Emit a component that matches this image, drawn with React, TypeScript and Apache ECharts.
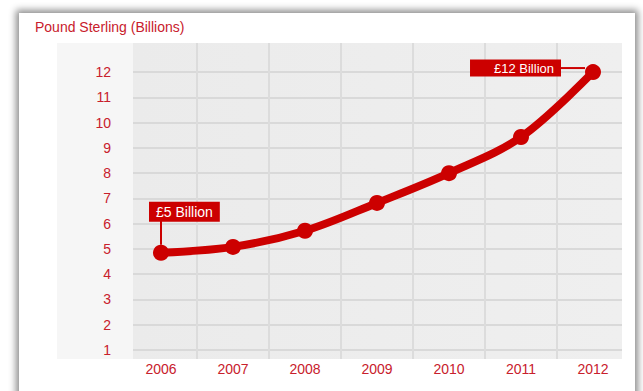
import React, { useEffect, useRef } from "react";
import * as echarts from "echarts";

const years = ["2006", "2007", "2008", "2009", "2010", "2011", "2012"];
const values = [4.85, 5.08, 5.72, 6.82, 8.0, 9.43, 12.0];
const yTicks = [1, 2, 3, 4, 5, 6, 7, 8, 9, 10, 11, 12];
const titleText = "Pound Sterling (Billions)";
const firstLabel = "£5 Billion";
const lastLabel = "£12 Billion";

const RED = "#cc0000";
const TXT = "#c8202c";
const FONT = "'Liberation Sans', Arial, sans-serif";

export default function App() {
  const ref = useRef<HTMLDivElement>(null);
  useEffect(() => {
    if (!ref.current) return;
    const chart = echarts.init(ref.current, undefined, { renderer: "svg" });
    const data = values.map((v, i) => {
      if (i === 0) {
        return {
          value: v,
          label: {
            show: true,
            position: "top",
            distance: 0,
            align: "left",
            offset: [-12, 0],
            formatter: `{box|${firstLabel}}\n{sp| }{stem| }`,
            rich: {
              box: {
                backgroundColor: RED,
                color: "#fff",
                fontSize: 14,
                fontFamily: FONT,
                padding: [3, 7, 3, 7],
                height: 14,
                lineHeight: 14,
              },
              sp: { width: 11, height: 26, fontSize: 1 },
              stem: { width: 2, height: 26, backgroundColor: RED, fontSize: 1 },
            },
          },
        };
      }
      if (i === values.length - 1) {
        return {
          value: v,
          label: {
            show: true,
            position: "left",
            distance: 0,
            offset: [0, -4],
            formatter: `{box|${lastLabel}}{ln| }`,
            rich: {
              box: {
                backgroundColor: RED,
                color: "#fff",
                fontSize: 13,
                fontFamily: FONT,
                padding: [2, 7, 2, 24],
                height: 13,
                lineHeight: 13,
                verticalAlign: "middle",
              },
              ln: {
                width: 24,
                height: 2,
                backgroundColor: RED,
                fontSize: 1,
                verticalAlign: "middle",
              },
            },
          },
        };
      }
      return v;
    });

    chart.setOption({
      animation: false,
      title: {
        text: titleText,
        left: 35,
        top: 20,
        padding: 0,
        textStyle: {
          color: TXT,
          fontSize: 14,
          fontWeight: "normal",
          fontFamily: FONT,
        },
      },
      graphic: [
        {
          type: "rect",
          z: -10,
          silent: true,
          shape: { x: 57, y: 43, width: 76, height: 316 },
          style: { fill: "#f6f6f6" },
        },
        {
          type: "rect",
          z: -10,
          silent: true,
          shape: { x: 133, y: 43, width: 489, height: 316 },
          style: {
            fill: new echarts.graphic.LinearGradient(0, 0, 1, 0, [
              { offset: 0, color: "#ebebeb" },
              { offset: 1, color: "#efefef" },
            ]),
          },
        },
        {
          type: "rect",
          z: 1,
          silent: true,
          shape: { x: 120, y: 43, width: 13, height: 316 },
          style: { fill: "#f6f6f6" },
        },
        {
          type: "rect",
          z: 1,
          silent: true,
          shape: { x: 622, y: 40, width: 10, height: 322 },
          style: { fill: "#ffffff" },
        },
      ],
      grid: { left: 125, right: 14, top: 43, bottom: 32 },
      xAxis: {
        type: "category",
        data: years,
        boundaryGap: true,
        axisLine: { show: false },
        axisTick: { show: false },
        axisLabel: {
          color: TXT,
          fontSize: 14,
          fontFamily: FONT,
          margin: 3,
        },
        splitLine: {
          show: true,
          showMinLine: false,
          showMaxLine: false,
          lineStyle: { color: "#dcdcdc", width: 2 },
        },
      },
      yAxis: {
        type: "value",
        min: 0.644,
        max: 13.15,
        axisLine: { show: false },
        axisTick: { show: false, customValues: yTicks },
        axisLabel: {
          customValues: yTicks,
          color: TXT,
          fontSize: 14,
          fontFamily: FONT,
          margin: 14,
        },
        splitLine: {
          show: true,
          lineStyle: { color: "#d9d9d9", width: 2 },
        },
      },
      series: [
        {
          type: "line",
          data,
          smooth: 0.35,
          symbol: "circle",
          symbolSize: 16,
          itemStyle: { color: RED },
          lineStyle: { color: RED, width: 8 },
          z: 3,
        },
      ],
    });
    return () => chart.dispose();
  }, []);

  return (
    <div
      style={{
        position: "fixed",
        left: 0,
        top: 0,
        width: 643,
        height: 391,
        background: "#ffffff",
        overflow: "hidden",
      }}
    >
      <div
        style={{
          position: "absolute",
          left: 19,
          top: 13,
          width: 616,
          height: 420,
          background: "#ffffff",
          boxShadow: "0 0 7px 3px rgba(0,0,0,0.45)",
        }}
      />
      <div
        ref={ref}
        style={{ position: "absolute", left: 0, top: 0, width: 643, height: 391 }}
      />
    </div>
  );
}
